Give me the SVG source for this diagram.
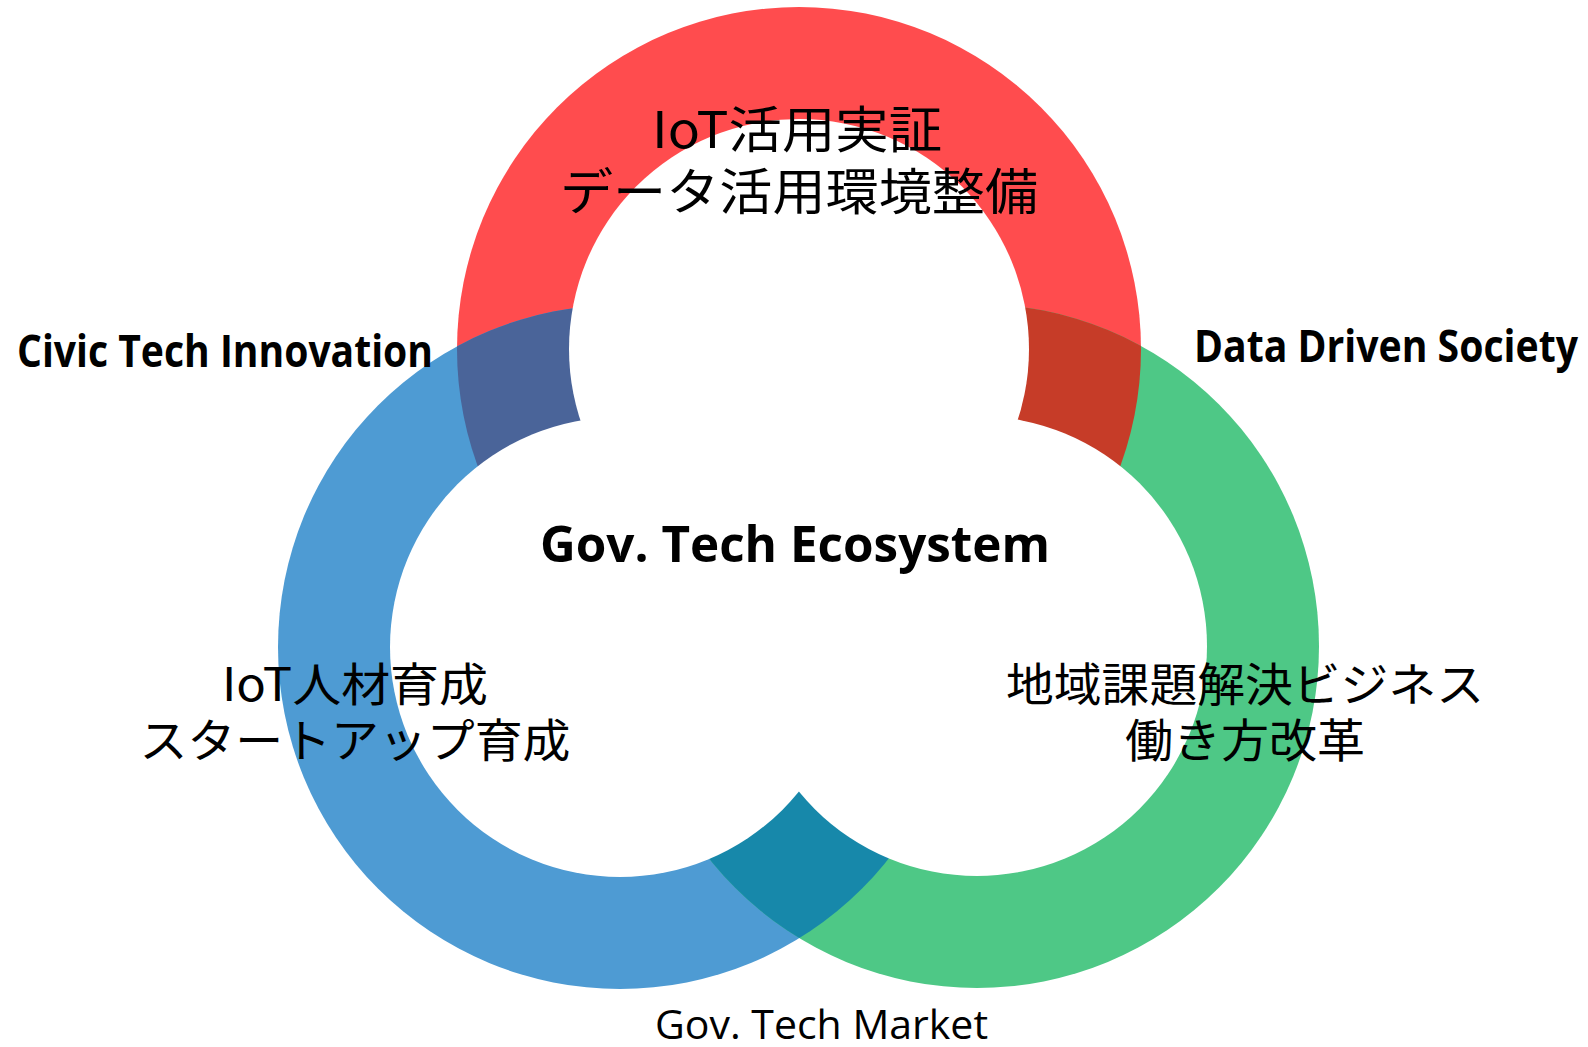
<svg xmlns="http://www.w3.org/2000/svg" width="1588" height="1047" viewBox="0 0 1588 1047">
<style>
.jp{font-family:"Noto Sans CJK JP","Noto Sans",sans-serif;fill:#000;text-anchor:middle;dominant-baseline:central}
.lb{font-family:"Open Sans","Noto Sans",sans-serif;font-weight:bold;fill:#000}
.lr{font-family:"Open Sans","Noto Sans",sans-serif;fill:#000}
.inner{fill:#fff}
</style>
<defs>
<clipPath id="cRed"><circle cx="799" cy="349" r="342"/></clipPath>
<clipPath id="cBlue"><circle cx="620" cy="647" r="342"/></clipPath>
</defs>
<rect width="1588" height="1047" fill="#fff"/>
<g id="rings">
<g id="ring-red"><circle cx="799" cy="349" r="342" fill="#FF4C4E"/></g>
<g id="ring-blue"><circle cx="620" cy="647" r="342" fill="#4E9BD3"/></g>
<g id="ring-green"><circle cx="977" cy="646" r="342" fill="#4EC886"/></g>
<g id="overlaps">
<circle cx="620" cy="647" r="342" fill="#4A6499" clip-path="url(#cRed)"/>
<circle cx="977" cy="646" r="342" fill="#C63C28" clip-path="url(#cRed)"/>
<circle cx="977" cy="646" r="342" fill="#1788AA" clip-path="url(#cBlue)"/>
</g>
<g id="inner">
<circle class="inner" cx="799" cy="349" r="230"/>
<circle class="inner" cx="620" cy="647" r="230"/>
<circle class="inner" cx="977" cy="646" r="230"/>
</g>
</g>
<g id="node-top">
<text class="jp" x="797" y="126" font-size="50" textLength="290" lengthAdjust="spacingAndGlyphs">IoT活用実証</text>
<text class="jp" x="799" y="188" font-size="50" textLength="478" lengthAdjust="spacingAndGlyphs">データ活用環境整備</text>
</g>
<g id="node-left">
<text class="jp" x="355" y="681" font-size="46" textLength="266" lengthAdjust="spacingAndGlyphs">IoT人材育成</text>
<text class="jp" x="355" y="737" font-size="46" textLength="431" lengthAdjust="spacingAndGlyphs">スタートアップ育成</text>
</g>
<g id="node-right">
<text class="jp" x="1245" y="681" font-size="46" textLength="478" lengthAdjust="spacingAndGlyphs">地域課題解決ビジネス</text>
<text class="jp" x="1245" y="737" font-size="46" textLength="240" lengthAdjust="spacingAndGlyphs">働き方改革</text>
</g>
<g id="node-center">
<text class="lb" x="540" y="562" font-size="50" textLength="510" lengthAdjust="spacingAndGlyphs">Gov. Tech Ecosystem</text>
</g>
<g id="label-civic"><text class="lb" x="17" y="367" font-size="44" textLength="416" lengthAdjust="spacingAndGlyphs">Civic Tech Innovation</text></g>
<g id="label-data"><text class="lb" x="1194" y="362" font-size="44" textLength="384" lengthAdjust="spacingAndGlyphs">Data Driven Society</text></g>
<g id="label-market"><text class="lr" x="655" y="1039" font-size="40" textLength="333" lengthAdjust="spacingAndGlyphs">Gov. Tech Market</text></g>
</svg>
